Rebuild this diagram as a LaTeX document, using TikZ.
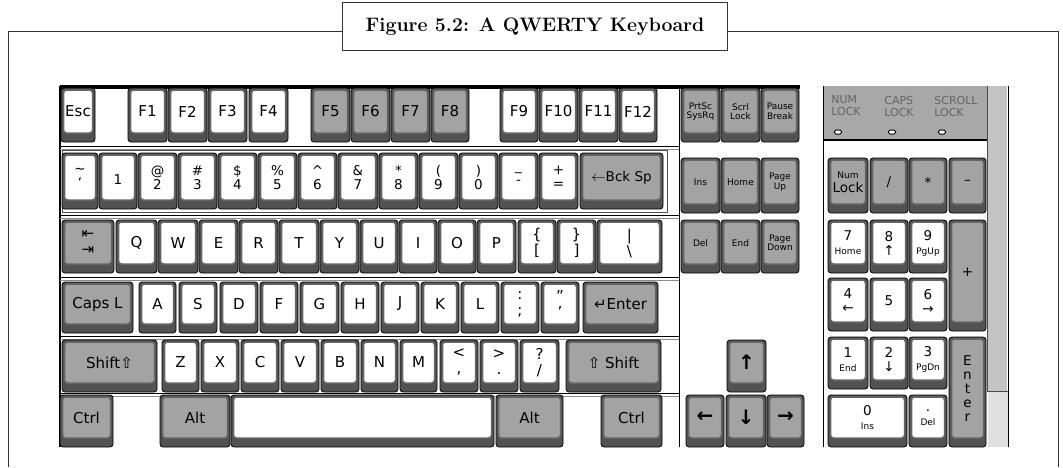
\documentclass[tikz,border=0pt]{standalone}
\usepackage{fontspec}
\setsansfont{DejaVu Sans}
\usepackage{tikz}
\usetikzlibrary{positioning}
\definecolor{keygray}{RGB}{163,163,163}
\definecolor{keydark}{RGB}{82,82,82}
\definecolor{ledgray}{RGB}{168,168,168}
\definecolor{stripgray}{RGB}{196,196,196}
\definecolor{ledtext}{RGB}{100,100,100}

\begin{document}
\begin{tikzpicture}[x=1pt, y=-1pt,
    keybase/.style={fill=keydark, draw=black, line width=0.8pt,
                    rounded corners=3pt},
    keycap/.style={draw=black!60, line width=1.5pt, rounded corners=3pt,
                   inner sep=0pt, align=center,
                   font=\fontsize{15}{16}\selectfont\sffamily},
    twoline/.style={font=\fontsize{13.5}{14}\selectfont\sffamily},
    smalllab/.style={font=\fontsize{9}{9.5}\selectfont\sffamily},
    arrowlab/.style={font=\fontsize{20}{20}\selectfont\sffamily\bfseries},
    sepline/.style={line width=1pt},
    ledlabel/.style={font=\fontsize{11}{12}\selectfont\sffamily,
                     text=ledtext, align=left, inner sep=0pt},
    led/.style={draw=black, line width=1pt, fill=white, rounded corners=1.5pt,
                minimum width=7, minimum height=4, inner sep=0pt},
  ]
  \useasboundingbox (0,0) rectangle (1063,467);
  %% Frame and caption
  \node[draw=black!80, line width=0.8pt, fill=white,
        minimum width=385, minimum height=48,
        font=\fontsize{19.5}{21}\selectfont\bfseries] (title) at (535,26.5)
        {Figure 5.2: A QWERTY Keyboard};
  \coordinate (fbl) at (8,467);
  \coordinate (fbr) at (1058,467);
  \draw[black!80, line width=0.8pt] (title.west |- 0,31) -- (fbl |- 0,31) -- (fbl);
  \draw[black!80, line width=0.8pt] (title.east |- 0,31) -- (fbr |- 0,31) -- (fbr);
  %% Keyboard panel
  \fill[black] (60,85) rectangle (800,89);
  \draw[line width=1.5pt] (60,86) -- (60,447);
  \draw[sepline] (679,86) -- (679,447);
  \foreach \y in {146,215,277,336,393}{
    \draw[sepline] (60,\y) -- (679,\y);
    \draw[black!45, line width=0.6pt] (60,\y+3) -- (679,\y+3);
  }
  \draw[black!70, line width=0.6pt] (62,150) rectangle (667,212);
  %% Function row
  \foreach \a/\b/\lab/\col [count=\i] in {61/95/Esc/white, 128/167/F1/white,
      168/207/F2/white, 208/247/F3/white, 249/288/F4/white,
      311/350/F5/keygray, 351/390/F6/keygray, 391/430/F7/keygray,
      431/469/F8/keygray, 500/538/F9/white, 539/578/F10/white,
      579/618/F11/white, 619/657/F12/white}{
    \path[keybase] (\a,88) rectangle (\b,142);
    \node[keycap, fill=\col, minimum width={\b-\a-5}, minimum height=43]
          (fk\i) at ({(\a+\b)/2},111.5) {\lab};
  }
  %% Number row
  \foreach \a/\b/\lab/\col [count=\i] in {62/98/{\textasciitilde\\`}/white,
      99/137/{~\\1}/white, 138/177/{@\\2}/white, 178/217/{\#\\3}/white,
      218/257/{\$\\4}/white, 258/297/{\%\\5}/white,
      298/337/{\textasciicircum\\6}/white, 338/378/{\&\\7}/white,
      379/418/{*\\8}/white, 419/458/{(\\9}/white, 459/498/{)\\0}/white,
      499/538/{\_\\-}/white, 539/578/{+\\=}/white,
      580/663/{$\leftarrow$Bck Sp}/keygray}{
    \path[keybase] (\a,153) rectangle (\b,209);
    \node[keycap, twoline, fill=\col, minimum width={\b-\a-5}, minimum height=45]
          (nk\i) at ({(\a+\b)/2},177.5) {\lab};
  }
  %% Top letter row
  \foreach \a/\b/\lab/\col [count=\i] in {62/114/{⇤\\⇥}/keygray,
      116/157/Q/white, 158/198/W/white, 199/238/E/white, 239/278/R/white,
      279/319/T/white, 320/359/Y/white, 360/398/U/white, 399/437/I/white,
      438/476/O/white, 477/516/P/white, 518/556/{\{\\{[}}/white,
      557/596/{\}\\{]}}/white, 597/662/{|\\\textbackslash}/white}{
    \path[keybase] (\a,220) rectangle (\b,273);
    \node[keycap, fill=\col, minimum width={\b-\a-5}, minimum height=42]
          (qk\i) at ({(\a+\b)/2},243) {\lab};
  }
  %% Home row
  \foreach \a/\b/\lab/\col [count=\i] in {62/133/{Caps L}/keygray,
      139/176/A/white, 179/217/S/white, 220/258/D/white, 260/298/F/white,
      300/339/G/white, 341/379/H/white, 381/419/J/white, 421/459/K/white,
      461/499/L/white, 501/539/{:\\;}/white, 541/579/{"\\'}/white,
      583/658/{↵Enter}/keygray}{
    \path[keybase] (\a,282) rectangle (\b,333);
    \node[keycap, fill=\col, minimum width={\b-\a-5}, minimum height=40]
          (ak\i) at ({(\a+\b)/2},304) {\lab};
  }
  %% Shift row
  \foreach \a/\b/\lab/\col [count=\i] in {62/157/{Shift⇧}/keygray,
      162/199/Z/white, 201/239/X/white, 241/279/C/white, 281/319/V/white,
      321/359/B/white, 361/398/N/white, 400/437/M/white,
      440/478/{<\\,}/white, 480/518/{>\\.}/white, 520/559/{?\\/}/white,
      566/661/{⇧ Shift}/keygray}{
    \path[keybase] (\a,340) rectangle (\b,392);
    \node[keycap, fill=\col, minimum width={\b-\a-5}, minimum height=41]
          (zk\i) at ({(\a+\b)/2},362.5) {\lab};
  }
  %% Bottom row
  \foreach \a/\b/\lab/\col [count=\i] in {60/113/Ctrl/keygray,
      160/230/Alt/keygray, 231/494/{}/white, 496/563/Alt/keygray,
      601/662/Ctrl/keygray}{
    \path[keybase] (\a,395) rectangle (\b,447);
    \node[keycap, fill=\col, minimum width={\b-\a-5}, minimum height=41]
          (bk\i) at ({(\a+\b)/2},417.5) {\lab};
  }
  %% Editing keys
  \foreach \a/\b/\t/\u/\lab [count=\i] in {681/720/88/142/{PrtSc\\SysRq},
      721/760/88/142/{Scrl\\Lock}, 761/799/88/142/{Pause\\Break},
      681/720/158/213/Ins, 721/760/158/213/Home, 761/799/158/213/{Page\\Up},
      681/720/220/273/Del, 721/760/220/273/End, 761/799/220/273/{Page\\Down}}{
    \path[keybase] (\a,\t) rectangle (\b,\u);
    \node[keycap, smalllab, fill=keygray, minimum width={\b-\a-5},
          minimum height={\u-\t-11}] (ek\i) at ({(\a+\b)/2},{(\t+\u-7)/2}) {\lab};
  }
  %% Arrow keys
  \foreach \a/\b/\t/\u/\lab [count=\i] in {727/766/340/392/↑,
      686/724/395/447/←, 726/766/395/447/↓, 767/804/395/447/→}{
    \path[keybase] (\a,\t) rectangle (\b,\u);
    \node[keycap, arrowlab, fill=keygray, minimum width={\b-\a-5},
          minimum height={\u-\t-11}] (rk\i) at ({(\a+\b)/2},{(\t+\u-7)/2}) {\lab};
  }
  %% Numeric keypad panel
  \fill[ledgray] (823,86) rectangle (987,140);
  \draw[line width=1.5pt] (823,140) -- (987,140);
  \fill[stripgray] (988,86) rectangle (1007,391);
  \fill[black!12] (988,392) rectangle (1008,447);
  \draw[sepline] (823,86) -- (823,447);
  \draw[sepline] (1008,86) -- (1008,447);
  \draw[black!70] (987,86) -- (987,391) -- (1008,391);
  \node[ledlabel] (numl) at (846,106) {NUM\\LOCK};
  \node[ledlabel] (capl) at (899,106) {CAPS\\LOCK};
  \node[ledlabel] (scrl) at (956,106) {SCROLL\\LOCK};
  \node[led] (led1) at (838,132) {};
  \node[led] (led2) at (892,132) {};
  \node[led] (led3) at (942,132) {};
  %% Keypad keys
  \foreach \a/\b/\t/\u/\lab/\col [count=\i] in {
      828/868/158/213/{\fontsize{9}{9.5}\selectfont Num\\Lock}/keygray,
      870/908/158/213/{/}/keygray, 909/947/158/213/*/keygray,
      949/986/158/213/–/keygray,
      828/868/220/273/{7\\\fontsize{9}{9.5}\selectfont Home}/white,
      870/908/220/273/{8\\↑}/white,
      909/947/220/273/{9\\\fontsize{9}{9.5}\selectfont PgUp}/white,
      949/986/220/331/+/keygray,
      828/868/278/331/{4\\←}/white, 870/908/278/331/5/white,
      909/947/278/331/{6\\→}/white,
      828/868/337/389/{1\\\fontsize{9}{9.5}\selectfont End}/white,
      870/908/337/389/{2\\↓}/white,
      909/947/337/389/{3\\\fontsize{9}{9.5}\selectfont PgDn}/white,
      949/986/337/447/{E\\n\\t\\e\\r}/keygray,
      828/907/395/447/{0\\\fontsize{9}{9.5}\selectfont Ins}/white,
      909/947/395/447/{.\\\fontsize{9}{9.5}\selectfont Del}/white}{
    \path[keybase] (\a,\t) rectangle (\b,\u);
    \node[keycap, twoline, fill=\col, minimum width={\b-\a-5},
          minimum height={\u-\t-11}] (pk\i) at ({(\a+\b)/2},{(\t+\u-7)/2}) {\lab};
  }
\end{tikzpicture}
\end{document}
